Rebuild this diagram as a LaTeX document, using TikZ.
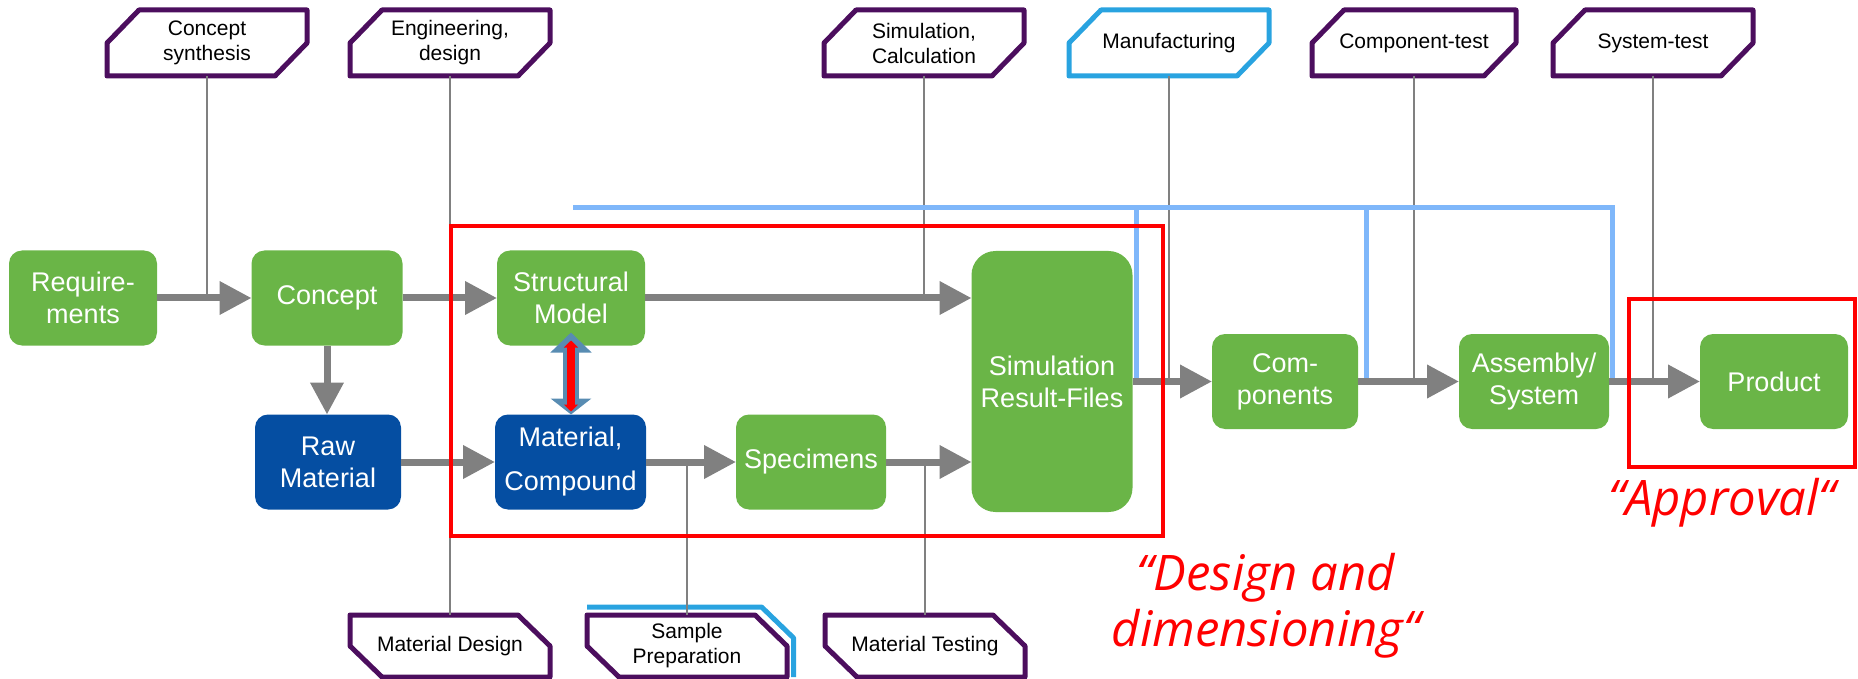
\documentclass[tikz,border=0pt]{standalone}
\usepackage{fontspec}
\setmainfont{Liberation Sans}
\newfontfamily\notefont{Open Sans}
\usetikzlibrary{arrows.meta}

\definecolor{stagegreen}{RGB}{106,181,71}
\definecolor{matblue}{RGB}{5,78,162}
\definecolor{tagpurple}{RGB}{76,14,94}
\definecolor{tagcyan}{RGB}{41,163,224}
\definecolor{buslight}{RGB}{127,183,250}
\definecolor{flowgray}{RGB}{128,128,128}
\definecolor{linkblue}{RGB}{88,140,178}

\tikzset{
  stage/.style={rectangle, rounded corners=6.5pt, fill=stagegreen, text=white,
    minimum width=74pt, minimum height=47.5pt, inner sep=0pt, outer sep=0pt,
    align=center, font=\fontsize{13.5}{16}\selectfont},
  rawstage/.style={stage, fill=matblue},
  tag/.style={minimum width=100pt, minimum height=33pt, inner sep=0pt, outer sep=0pt,
    align=center, font=\fontsize{10.5}{12.5}\selectfont},
  tagline/.style={tagpurple, line width=2.5pt, line join=round},
  flow/.style={flowgray, line width=3.5pt, -{Triangle[length=16pt,width=16pt]}},
  feed/.style={flowgray, line width=1.2pt},
  bus/.style={buslight, line width=2.5pt},
  redframe/.style={red, line width=2pt},
  note/.style={red, align=center, font=\notefont\itshape\fontsize{24.5}{28}\selectfont}
}

\begin{document}
\begin{tikzpicture}[x=0.5pt, y=-0.5pt]
  \useasboundingbox (0,0) rectangle (1858,679);

  % process stages
  \node[stage] (req) at (83,298) {Require-\\ments};
  \node[stage, minimum width=75.5pt] (con) at (327,298) {Concept};
  \node[stage] (sm) at (571,298) {Structural\\Model};
  \node[stage, minimum width=80.5pt, minimum height=130.5pt, rounded corners=12pt] (sim) at (1052,381.5) {Simulation\\Result-Files};
  \node[stage, minimum width=73pt] (cp) at (1285,381.5) {Com-\\ponents};
  \node[stage, minimum width=75pt] (asy) at (1534,381.5) {Assembly/\\System};
  \node[stage] (pr) at (1774,381.5) {Product};
  \node[rawstage, minimum width=73pt] (raw) at (328,462) {Raw\\Material};
  \node[rawstage, minimum width=75.5pt] (mc) at (570.5,462) {Material,\\[6pt]Compound};
  \node[stage, minimum width=75pt] (spc) at (811,462) {Specimens};

  % activity tags
  \node[tag] (cs) at (207,43) {Concept\\synthesis};
  \node[tag] (ed) at (450,43) {Engineering,\\design};
  \node[tag] (sc) at (924,43) {Simulation,\\Calculation};
  \node[tag] (mf) at (1169,43) {Manufacturing};
  \node[tag, minimum width=102pt] (ct) at (1414,43) {Component-test};
  \node[tag] (st) at (1653,43) {System-test};
  \node[tag, minimum height=31pt] (md) at (450,646) {Material Design};
  \node[tag, minimum height=31pt] (sp) at (687,646) {Sample\\Preparation};
  \node[tag, minimum height=31pt] (mt) at (925,646) {Material Testing};

  \foreach \t in {cs,ed,sc,ct,st}
    \draw[tagline] (\t.west) -- ([xshift=16pt]\t.north west) -- (\t.north east)
      -- (\t.east) -- ([xshift=-16pt]\t.south east) -- (\t.south west) -- cycle;
  \draw[tagline, tagcyan] (mf.west) -- ([xshift=16pt]mf.north west) -- (mf.north east)
      -- (mf.east) -- ([xshift=-16pt]mf.south east) -- (mf.south west) -- cycle;
  \draw[tagline, tagcyan] ([yshift=4pt]sp.north west) -- ([shift={(-12.7pt,4pt)}]sp.north east)
      -- ([shift={(3.3pt,4pt)}]sp.east) -- ([xshift=3.3pt]sp.south east);
  \foreach \t in {md,sp,mt}
    \draw[tagline] (\t.north west) -- ([xshift=-16pt]\t.north east) -- (\t.east)
      -- (\t.south east) -- ([xshift=16pt]\t.south west) -- (\t.west) -- cycle;

  % tag leads
  \draw[feed] (cs.south) -- (cs.south |- req.east);
  \draw[feed] (ed.south) -- (md.north);
  \draw[feed] (sc.south) -- (sc.south |- sm.east);
  \draw[feed] (mf.south) -- (mf.south |- cp.west);
  \draw[feed] (ct.south) -- (ct.south |- cp.east);
  \draw[feed] (st.south) -- (st.south |- pr.west);
  \draw[feed] (sp.north) -- (sp.north |- mc.east);
  \draw[feed] (mt.north) -- (mt.north |- spc.east);

  % manufacturing feedback
  \coordinate (bus) at (573,208);
  \coordinate (drop1) at ([xshift=2pt]sim.east);
  \coordinate (drop2) at ([xshift=4pt]cp.east);
  \coordinate (drop3) at ([xshift=1.5pt]asy.east);
  \draw[bus] (bus) -| (drop3);
  \draw[bus] (drop1 |- bus) -- (drop1);
  \draw[bus] (drop2 |- bus) -- (drop2);

  % flow
  \draw[flow] (req) -- (con);
  \draw[flow] (con) -- (sm);
  \draw[flow] (sm.east) -- (sm.east -| sim.west);
  \draw[flow] (con.south) -- (con.south |- raw.north);
  \draw[flow] (raw) -- (mc);
  \draw[flow] (mc) -- (spc);
  \draw[flow] (spc.east) -- (spc.east -| sim.west);
  \draw[flow] (sim.east) -- (cp.west);
  \draw[flow] (cp) -- (asy);
  \draw[flow] (asy) -- (pr);

  % model <-> material
  \draw[linkblue, line width=8pt, {Triangle[length=10pt,width=20pt]}-{Triangle[length=8pt,width=20pt]}]
    ([yshift=6.5pt]sm.south) -- ([yshift=0pt]sm.south |- mc.north);
  \draw[red, line width=4pt, {Triangle[length=3.5pt,width=7pt]}-{Triangle[length=3.5pt,width=7pt]}]
    ([yshift=2.5pt]sm.south) -- ([yshift=1.5pt]sm.south |- mc.north);

  % phases
  \draw[redframe] (451,226) rectangle (1163,536);
  \draw[redframe] (1629,299) rectangle (1855,467);
  \node[note] (dd) at (1266,606) {“Design and\\dimensioning“};
  \node[note] (ap) at (1722,503) {“Approval“};
\end{tikzpicture}
\end{document}
